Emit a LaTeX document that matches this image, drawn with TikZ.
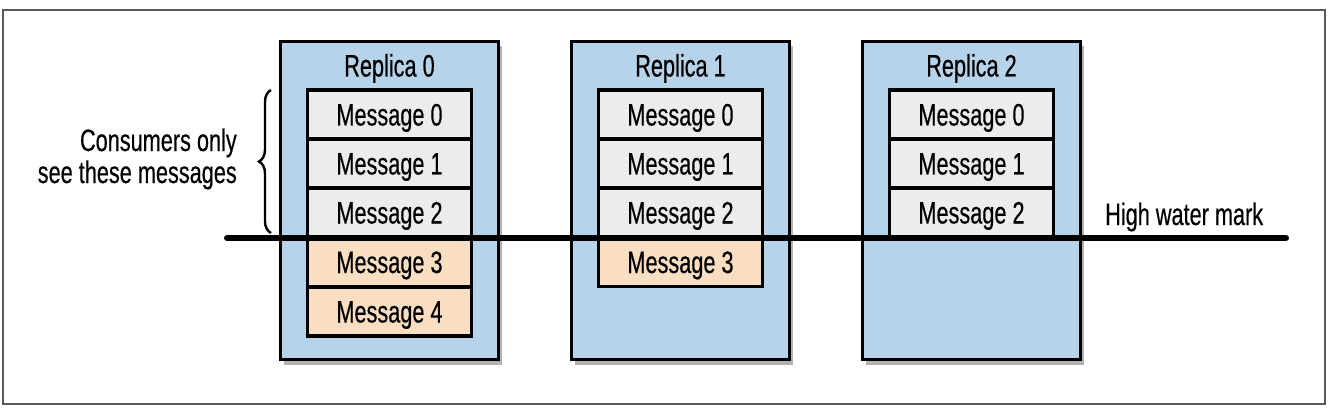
\documentclass[tikz,border=0pt]{standalone}
\usepackage{fontspec}
\setmainfont{Liberation Sans}[FakeStretch=0.7,FakeBold=0.4]
\usetikzlibrary{shadows,decorations.pathreplacing}
\definecolor{repblue}{RGB}{183,211,233}
\definecolor{msggrey}{RGB}{236,236,236}
\definecolor{msgorange}{RGB}{250,222,194}
\definecolor{framegrey}{RGB}{90,90,90}
\tikzset{
  replica/.style={draw=black, line width=3.5pt, fill=repblue, minimum width=218pt, minimum height=318pt, inner sep=0pt,
    drop shadow={shadow xshift=3pt, shadow yshift=-5pt, opacity=0.3, fill=black}},
  title/.style={inner sep=0pt, text height=22pt, text depth=0pt},
  msg/.style={draw=black, line width=3.2pt, fill=msggrey, minimum width=164pt, minimum height=49pt, inner sep=0pt,
    text height=22pt, text depth=0pt},
  msgnew/.style={msg, fill=msgorange},
  label/.style={inner sep=0pt},
  hwm/.style={line width=6pt, line cap=round},
}
\begin{document}
\begin{tikzpicture}[x=1pt,y=-1pt,font=\fontsize{31}{32}\selectfont]
\useasboundingbox (0,0) rectangle (1332,414);
\draw[line width=1.5pt, draw=framegrey] (3,10) rectangle (1325,404);
% replicas
\foreach \i/\x in {0/389.5,1/680.5,2/971.5}{
  \node[replica] (r\i) at (\x,200.5) {};
  \node[title] (t\i) at (\x,65.5) {Replica \i};
}
% messages
\foreach \j/\y in {0/114.5,1/163.5,2/212.5}{
  \node[msg] (m0\j) at (389.5,\y) {Message \j};
  \node[msg] (m1\j) at (680.5,\y) {Message \j};
  \node[msg] (m2\j) at (971.5,\y) {Message \j};
}
\node[msgnew] (m03) at (389.5,262) {Message 3};
\node[msgnew] (m04) at (389.5,311.5) {Message 4};
\node[msgnew] (m13) at (680.5,262) {Message 3};
% high water mark
\coordinate (hl) at (227,238);
\coordinate (hr) at (1286,238);
\draw[hwm] (hl) -- (hr);
\node[label, anchor=base west] (hwmtext) at (1105,225) {High water mark};
% brace
\coordinate (bb) at (271,233);
\coordinate (bt) at (271,90);
\draw[line width=2.4pt, decorate, decoration={brace, amplitude=12pt}] (bb) -- (bt);
\node[label, anchor=east, align=right] (cons) at (237,159) {Consumers only\\see these messages};
\end{tikzpicture}
\end{document}
